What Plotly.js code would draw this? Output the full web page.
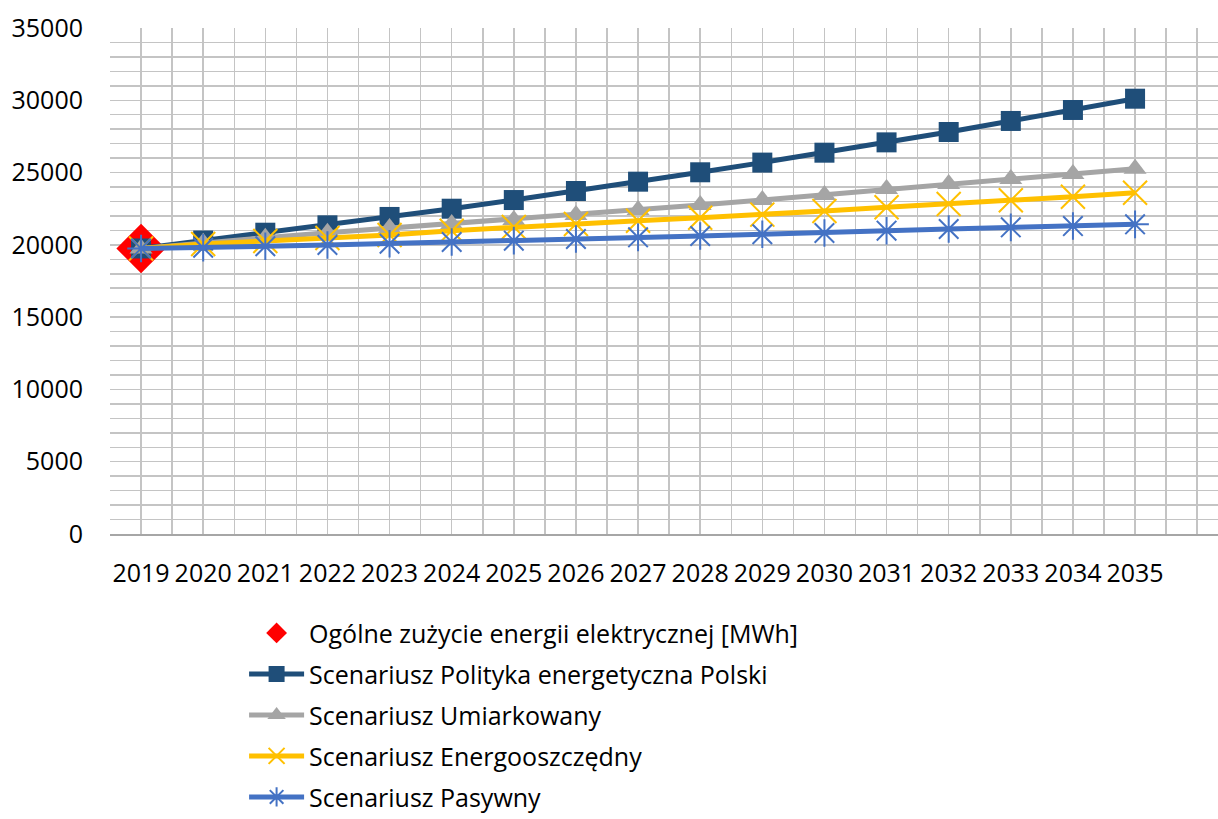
<!DOCTYPE html>
<html>
<head>
<meta charset="utf-8">
<script src="https://cdn.plot.ly/plotly-3.0.1.min.js"></script>
<style>
  html, body { margin: 0; padding: 0; background: #fff; overflow: hidden; }
  #chart { width: 1218px; height: 819px; }
</style>
</head>
<body>
<div id="chart"></div>
<script>
// Years on the horizontal axis
const years = [2019, 2020, 2021, 2022, 2023, 2024, 2025, 2026, 2027, 2028, 2029, 2030, 2031, 2032, 2033, 2034, 2035];

// Electricity consumption [MWh]
const totalYears = [2019];
const totalValues = [19750];

const politykaValues = [19750, 20300, 20840, 21350, 21930, 22500, 23100, 23725, 24370, 25020, 25690, 26375, 27090, 27805, 28570, 29330, 30110];
const umiarkowanyValues = [19750, 20150, 20500, 20840, 21160, 21450, 21720, 22065, 22410, 22760, 23100, 23450, 23860, 24210, 24560, 24900, 25270];
const energooszczednyValues = [19750, 20060, 20270, 20475, 20685, 20980, 21235, 21440, 21670, 21880, 22090, 22340, 22600, 22830, 23080, 23330, 23610];
const pasywnyValues = [19750, 19800, 19900, 19990, 20080, 20200, 20290, 20405, 20520, 20610, 20730, 20820, 20980, 21100, 21210, 21300, 21420];

const seriesNames = [
  'Ogólne zużycie energii elektrycznej [MWh]',
  'Scenariusz Polityka energetyczna Polski',
  'Scenariusz Umiarkowany',
  'Scenariusz Energooszczędny',
  'Scenariusz Pasywny'
];

const FONT = 'Open Sans, Noto Sans, sans-serif';

const traces = [
  {
    x: totalYears, y: totalValues, name: seriesNames[0], legendgroup: 'g0',
    mode: 'markers', type: 'scatter',
    marker: { symbol: 'diamond', size: 38, color: '#FF0000' }
  },
  {
    x: years, y: politykaValues, name: seriesNames[1], legendgroup: 'g1',
    mode: 'lines+markers', type: 'scatter',
    line: { color: '#1F4E79', width: 5 },
    marker: { symbol: 'square', size: 20, color: '#1F4E79' }
  },
  {
    x: years, y: umiarkowanyValues, name: seriesNames[2], legendgroup: 'g2',
    mode: 'lines+markers', type: 'scatter',
    line: { color: '#A5A5A5', width: 5 },
    marker: { symbol: 'triangle-up', size: 20, color: '#A5A5A5' }
  },
  {
    x: years, y: energooszczednyValues, name: seriesNames[3], legendgroup: 'g3',
    mode: 'lines+markers', type: 'scatter',
    line: { color: '#FFC000', width: 5 },
    marker: { symbol: 'x-thin', size: 24, color: '#FFC000', line: { color: '#FFC000', width: 2 } }
  },
  {
    x: years, y: pasywnyValues, name: seriesNames[4], legendgroup: 'g4',
    mode: 'lines+markers', type: 'scatter',
    line: { color: '#4472C4', width: 5 },
    marker: { symbol: 'asterisk', size: 23, color: '#4472C4', line: { color: '#4472C4', width: 2 } }
  }
];

const layout = {
  width: 1218,
  height: 819,
  paper_bgcolor: '#ffffff',
  plot_bgcolor: '#ffffff',
  margin: { l: 110, r: 0, t: 28, b: 285, autoexpand: false },
  font: { family: FONT, size: 25, color: '#000000' },
  showlegend: true,
  legend: {
    orientation: 'v',
    xref: 'container', yref: 'container',
    x: 0.2004, xanchor: 'left',
    y: 0.255, yanchor: 'top',
    font: { family: FONT, size: 25, color: '#000000' },
    tracegroupgap: 5.5,
    itemwidth: 55,
    bgcolor: 'rgba(0,0,0,0)'
  },
  xaxis: {
    type: 'linear',
    range: [2018.5, 2036.335],
    tickmode: 'array',
    tickvals: years,
    ticktext: years.map(String),
    ticks: '',
    ticklabelstandoff: 16,
    showgrid: true,
    gridcolor: '#C4C4C4',
    gridwidth: 1.5,
    minor: { tick0: 2018.5, dtick: 0.5, showgrid: true, gridcolor: '#C4C4C4', gridwidth: 1.5, ticks: '' },
    zeroline: false,
    showline: true,
    linecolor: '#A6A6A6',
    linewidth: 2,
    automargin: false,
    fixedrange: true
  },
  yaxis: {
    range: [0, 35000],
    dtick: 5000,
    tick0: 0,
    tickformat: 'd',
    ticks: '',
    ticklabelstandoff: 26,
    showgrid: true,
    gridcolor: '#C4C4C4',
    gridwidth: 1.5,
    minor: { dtick: 1000, showgrid: true, gridcolor: '#C4C4C4', gridwidth: 1.5, ticks: '' },
    zeroline: false,
    showline: false,
    automargin: false,
    fixedrange: true
  }
};

Plotly.newPlot('chart', traces, layout, { displayModeBar: false, staticPlot: true });
</script>
</body>
</html>
